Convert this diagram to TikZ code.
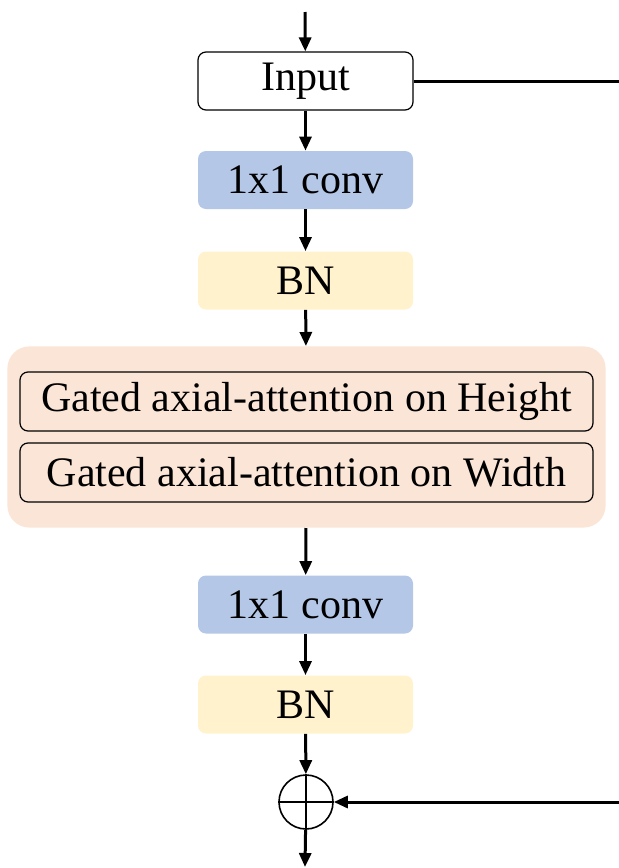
\documentclass[tikz,border=0pt]{standalone}
\usepackage{fontspec}
\setmainfont{Liberation Serif}
\usetikzlibrary{arrows.meta,positioning,fit,backgrounds}
\definecolor{convblue}{HTML}{B4C7E7}
\definecolor{bnyellow}{HTML}{FFF2CC}
\definecolor{attnorange}{HTML}{FBE5D6}

\begin{document}
\begin{tikzpicture}[
    x=0.5pt, y=-0.5pt,
    block/.style={rounded corners=4pt, minimum width=107.5pt, minimum height=29pt, inner sep=0pt, font=\fontsize{21}{25}\selectfont},
    inbox/.style={block, draw, line width=0.6pt, fill=white},
    convbox/.style={block, fill=convblue},
    bnbox/.style={block, fill=bnyellow},
    attn/.style={block, draw, line width=0.6pt, fill=attnorange, minimum width=286.5pt, minimum height=29.5pt},
    arr/.style={-{Triangle[length=7pt, width=6pt]}, line width=1.5pt}
]
\useasboundingbox (0,0) rectangle (619,868);
\clip (0,0) rectangle (619,868);

\coordinate (top) at (305,12);
\node[inbox] (input) at (305.5,81) {Input};
\node[convbox] (conv1) at (305.5,180) {1x1 conv};
\node[bnbox] (bn1) at (305.5,280.5) {BN};
\node[attn] (attnh) at (306.5,401.5) {Gated axial-attention on Height};
\node[attn] (attnw) at (306.5,472.5) {Gated axial-attention on Width};
\begin{scope}[on background layer]
\node[fit=(attnh)(attnw), fill=attnorange, rounded corners=11pt, inner xsep=6pt, inner ysep=12.5pt] (axial) {};
\end{scope}
\node[convbox] (conv2) at (305.5,604.5) {1x1 conv};
\node[bnbox] (bn2) at (305.5,704.5) {BN};
\node[draw, circle, line width=0.8pt, minimum size=27pt, inner sep=0pt] (sum) at (306,802) {};
\draw[line width=0.8pt] (sum.north) -- (sum.south);
\draw[line width=0.8pt] (sum.west) -- (sum.east);
\coordinate (bottom) at (305,867);
\coordinate (skip) at (626,81);

\draw[arr] (top) -- (input);
\draw[arr] (input) -- (conv1);
\draw[arr] (conv1) -- (bn1);
\draw[arr] (bn1) -- (axial);
\draw[arr] (axial) -- (conv2);
\draw[arr] (conv2) -- (bn2);
\draw[arr] (bn2) -- (sum);
\draw[arr] (sum) -- (bottom);
\draw[arr] (input.east) -- (skip) |- (sum.east);
\end{tikzpicture}
\end{document}
